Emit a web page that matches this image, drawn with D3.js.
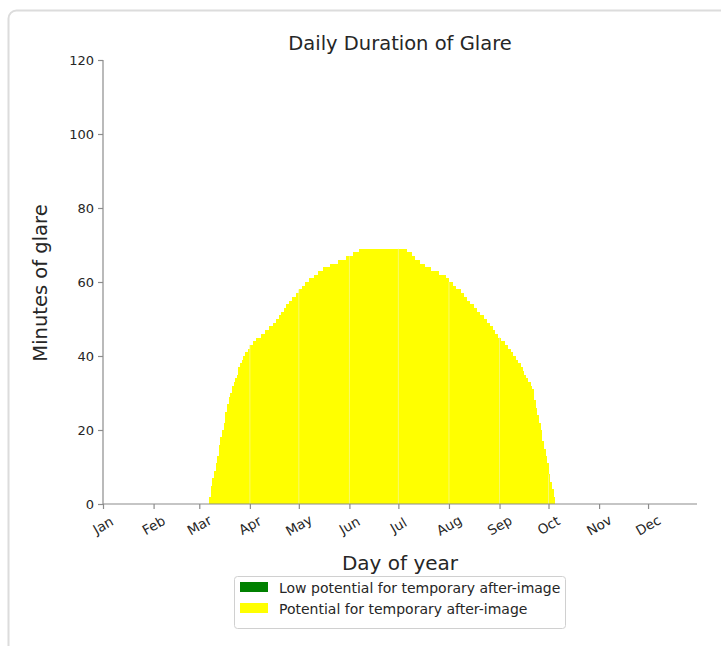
<!DOCTYPE html>
<html>
<head>
<meta charset="utf-8">
<script src="https://cdn.jsdelivr.net/npm/d3@7"></script>
<style>
  html, body { margin: 0; padding: 0; background: #fff; }
  svg { display: block; font-family: "DejaVu Sans", sans-serif; }
</style>
</head>
<body>
<svg id="chart" width="721" height="646"></svg>
<script>
// ---- data ----
const monthLabels = ["Jan","Feb","Mar","Apr","May","Jun","Jul","Aug","Sep","Oct","Nov","Dec"];
const monthStartDays = [0,31,59,90,120,151,181,212,243,273,304,334];
const yTicks = [0,20,40,60,80,100,120];
const legendLabels = ["Low potential for temporary after-image","Potential for temporary after-image"];
const legendColors = ["#008000","#ffff00"];
const firstGlareDay = 65;
// minutes of glare per day, starting at firstGlareDay (potential for temporary after-image)
const glareMinutes = [
  2,5,7,9,11,13,16,18,20,22,25,27,29,30,32,33,34,35,37,38,39,40,41,41,42,43,43,44,44,45,
  45,45,46,46,47,47,47,48,48,49,49,50,50,51,52,52,53,54,54,55,55,56,56,57,57,58,58,59,59,60,
  60,61,61,61,62,62,62,63,63,63,64,64,64,64,65,65,65,65,65,66,66,66,66,66,67,67,67,67,68,68,
  68,68,69,69,69,69,69,69,69,69,69,69,69,69,69,69,69,69,69,69,69,69,69,69,69,69,69,69,69,69,
  69,68,68,68,67,67,66,66,66,65,65,65,64,64,64,64,63,63,63,63,63,62,62,62,62,61,61,60,60,59,
  59,58,58,58,57,57,56,56,55,55,54,54,53,53,52,52,51,51,50,50,49,49,48,48,47,46,46,45,45,44,
  44,43,43,42,42,41,40,40,39,38,38,37,36,35,34,33,33,32,31,28,26,24,22,20,17,15,13,11,8,6,
  4,2
];

// ---- layout ----
const svg = d3.select("#chart");
const margin = {left: 103, right: 697, top: 60, bottom: 504};

svg.append("rect")
  .attr("x", 8.5).attr("y", 10.5).attr("width", 760).attr("height", 660)
  .attr("rx", 8).attr("fill", "#fff").attr("stroke", "#dcdcdc").attr("stroke-width", 2);

const x = d3.scaleLinear().domain([0, 364]).range([margin.left, margin.right]);
const y = d3.scaleLinear().domain([0, 120]).range([margin.bottom, margin.top]);

const series = glareMinutes.map((v, i) => ({day: firstGlareDay + i, value: v}));

// bars (one per day)
svg.append("g").selectAll("rect").data(series).join("rect")
  .attr("x", d => x(d.day))
  .attr("width", d => x(d.day + 1) - x(d.day) + 0.3)
  .attr("y", d => y(d.value))
  .attr("height", d => y(0) - y(d.value))
  .attr("fill", legendColors[1])
  .attr("shape-rendering", "crispEdges");

// faint month seams inside the bars
const seams = monthStartDays
  .map(d => series.find(s => s.day === d))
  .filter(Boolean);
svg.append("g").selectAll("line").data(seams).join("line")
  .attr("x1", d => x(d.day)).attr("x2", d => x(d.day))
  .attr("y1", y(0)).attr("y2", d => y(d.value))
  .attr("stroke", "#f6f68a").attr("stroke-width", 0.8);

// axes
const axisColor = "#8c8c8c";
const textColor = "#262626";

const yAxis = svg.append("g").attr("transform", `translate(${margin.left},0)`)
  .call(d3.axisLeft(y).tickValues(yTicks).tickSize(5).tickPadding(4));
yAxis.select(".domain").attr("stroke", axisColor).attr("stroke-width", 1.2)
  .attr("d", `M0,${margin.bottom}V${margin.top}`);
yAxis.selectAll(".tick line").attr("stroke", axisColor).attr("stroke-width", 1.2);
yAxis.selectAll(".tick text").attr("fill", textColor).style("font-size", "13px")
  .style("font-family", "DejaVu Sans, sans-serif");

const xAxis = svg.append("g").attr("transform", `translate(0,${margin.bottom})`)
  .call(d3.axisBottom(x).tickValues(monthStartDays).tickSize(5)
    .tickFormat((d, i) => monthLabels[i]));
xAxis.select(".domain").attr("stroke", axisColor).attr("stroke-width", 1.2)
  .attr("d", `M${margin.left},0H${margin.right}`);
xAxis.selectAll(".tick line").attr("stroke", axisColor).attr("stroke-width", 1.2);
xAxis.selectAll(".tick text")
  .attr("fill", textColor).style("font-size", "13.5px")
  .style("font-family", "DejaVu Sans, sans-serif")
  .attr("text-anchor", "middle")
  .attr("dy", null)
  .attr("y", 26)
  .attr("transform", "rotate(-30, 0, 22)");

// titles
svg.append("text").attr("x", 400).attr("y", 50).attr("text-anchor", "middle")
  .attr("fill", textColor).style("font-size", "19.5px").text("Daily Duration of Glare");
svg.append("text").attr("x", 400).attr("y", 570).attr("text-anchor", "middle")
  .attr("fill", textColor).style("font-size", "20px").text("Day of year");
svg.append("text").attr("transform", "translate(47,283) rotate(-90)")
  .attr("text-anchor", "middle").attr("fill", textColor).style("font-size", "19.5px")
  .text("Minutes of glare");

// legend
const lg = svg.append("g");
lg.append("rect").attr("x", 234.5).attr("y", 576.5).attr("width", 331).attr("height", 52)
  .attr("rx", 3).attr("fill", "#fff").attr("stroke", "#d0d0d0");
legendLabels.forEach((lab, i) => {
  lg.append("rect").attr("x", 240).attr("y", 582 + i * 21).attr("width", 28).attr("height", 10)
    .attr("fill", legendColors[i]);
  lg.append("text").attr("x", 279).attr("y", 592.5 + i * 21).attr("fill", textColor)
    .style("font-size", "14px").text(lab);
});
</script>
</body>
</html>
